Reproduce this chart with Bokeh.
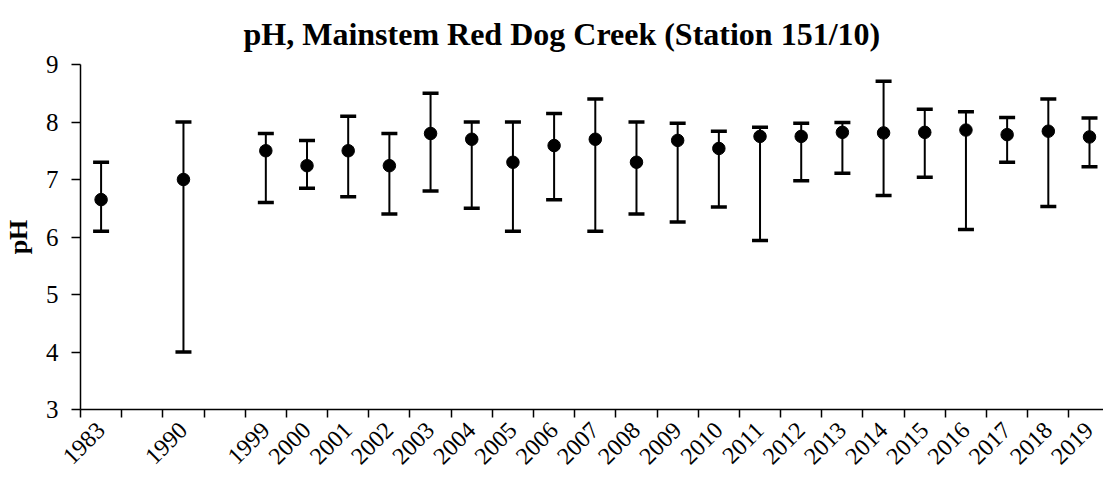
from math import pi
from bokeh.plotting import figure
from bokeh.models import ColumnDataSource, Whisker, TeeHead, FixedTicker, Range1d
from bokeh.embed import file_html
from bokeh.resources import INLINE

# Category slots (blank strings are empty gaps on the axis)
categories = ["1983", "", "1990", "", "1999", "2000", "2001", "2002", "2003",
              "2004", "2005", "2006", "2007", "2008", "2009", "2010", "2011",
              "2012", "2013", "2014", "2015", "2016", "2017", "2018", "2019"]
mean_ph = [6.65, None, 7.00, None, 7.50, 7.24, 7.50, 7.24, 7.80, 7.70, 7.30,
           7.59, 7.70, 7.30, 7.68, 7.54, 7.75, 7.75, 7.82, 7.81, 7.82, 7.86,
           7.78, 7.84, 7.74]
min_ph = [6.10, None, 4.00, None, 6.60, 6.85, 6.70, 6.40, 6.80, 6.50, 6.10,
          6.65, 6.10, 6.40, 6.26, 6.52, 5.94, 6.98, 7.11, 6.72, 7.04, 6.13,
          7.30, 6.53, 7.22]
max_ph = [7.30, None, 8.00, None, 7.80, 7.68, 8.10, 7.80, 8.50, 8.00, 8.00,
          8.15, 8.40, 8.00, 7.98, 7.84, 7.91, 7.98, 7.99, 8.71, 8.22, 8.18,
          8.08, 8.40, 8.07]
y_ticks = [3, 4, 5, 6, 7, 8, 9]

FONT = "Liberation Serif"

idx = [i for i, c in enumerate(categories) if c]
src = ColumnDataSource(dict(
    x=[i + 0.5 for i in idx],
    mean=[mean_ph[i] for i in idx],
    lo=[min_ph[i] for i in idx],
    hi=[max_ph[i] for i in idx],
))

p = figure(width=1103, height=478, output_backend="svg", toolbar_location=None,
           x_range=Range1d(0, len(categories) - 0.16), y_range=Range1d(3, 9),
           min_border_left=78, min_border_right=0, min_border_top=64,
           min_border_bottom=69)
p.outline_line_color = None
p.xgrid.grid_line_color = None
p.ygrid.grid_line_color = None
p.background_fill_color = "white"
p.border_fill_color = "white"

p.title.text = "pH, Mainstem Red Dog Creek (Station 151/10)"
p.title.text_font = FONT
p.title.text_font_size = "32px"
p.title.text_font_style = "bold"
p.title.align = "left"
p.title.offset = 163
p.title.standoff = 25
p.title.text_color = "black"

# X axis: labels at category centres, ticks at slot boundaries
centers = [i + 0.5 for i in idx]
xa = p.xaxis[0]
xa.ticker = FixedTicker(ticks=centers, minor_ticks=list(range(len(categories) + 1)))
xa.major_label_overrides = {i + 0.5: categories[i] for i in idx}
xa.major_tick_line_color = None
xa.minor_tick_line_color = "black"
xa.minor_tick_line_width = 1.5
xa.minor_tick_out = 8
xa.minor_tick_in = 0
xa.axis_line_width = 1.5
xa.axis_line_color = "black"
xa.major_label_orientation = pi / 4
xa.major_label_text_font = FONT
xa.major_label_text_font_size = "24px"
xa.major_label_text_color = "black"
xa.major_label_standoff = 9

ya = p.yaxis[0]
ya.ticker = FixedTicker(ticks=y_ticks, minor_ticks=[])
ya.axis_line_width = 1.5
ya.axis_line_color = "black"
ya.major_tick_line_color = "black"
ya.major_tick_line_width = 1.5
ya.major_tick_out = 9
ya.major_tick_in = 0
ya.minor_tick_line_color = None
ya.major_label_text_font = FONT
ya.major_label_text_font_size = "25px"
ya.major_label_text_color = "black"
ya.major_label_standoff = 13
ya.axis_label = "pH"
ya.axis_label_text_font = FONT
ya.axis_label_text_font_size = "26px"
ya.axis_label_text_font_style = "bold"
ya.axis_label_text_color = "black"
ya.axis_label_standoff = 10

whisk = Whisker(base="x", upper="hi", lower="lo", source=src, dimension="height",
                line_color="black", line_width=2,
                upper_head=TeeHead(size=16, line_width=3.5, line_color="black"),
                lower_head=TeeHead(size=16, line_width=3.5, line_color="black"))
p.add_layout(whisk)

p.scatter("x", "mean", source=src, size=12.5, marker="circle",
          fill_color="black", line_color="black")

open("out.html", "w").write(file_html(p, INLINE))
